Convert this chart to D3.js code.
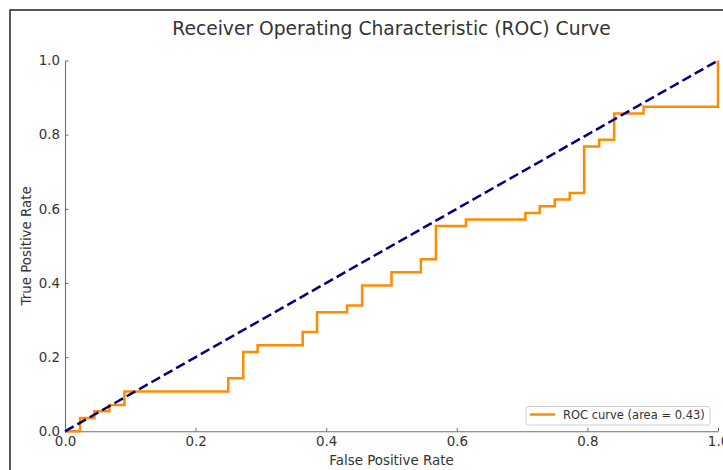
<!DOCTYPE html>
<html>
<head>
<meta charset="utf-8">
<script src="https://cdn.jsdelivr.net/npm/d3@7"></script>
<style>
  body { margin: 0; background: #fff; }
  text { font-family: "DejaVu Sans", sans-serif; }
</style>
</head>
<body>
<div id="container"></div>
<script>
// ROC points (step after each point)
const fpr = [0, 0.023, 0.045, 0.068, 0.091, 0.25, 0.273, 0.295, 0.364, 0.386, 0.432, 0.455, 0.5,
  0.545, 0.568, 0.614, 0.705, 0.727, 0.75, 0.773, 0.795, 0.818, 0.841, 0.886, 1];
const tpr = [0, 0.036, 0.054, 0.071, 0.107, 0.143, 0.214, 0.232, 0.268, 0.321, 0.339, 0.393, 0.429,
  0.464, 0.554, 0.571, 0.589, 0.607, 0.625, 0.643, 0.768, 0.786, 0.857, 0.875, 1];
const chanceLine = [0, 1];
const tickValues = [0, 0.2, 0.4, 0.6, 0.8, 1.0];
const rocLabel = "ROC curve (area = 0.43)";

const width = 723;
const height = 470;
const margin = { top: 60.5, bottom: 38.7, left: 65, right: 5 };

const svg = d3
  .select("#container")
  .append("svg")
  .attr("width", width)
  .attr("height", height);

// outer frame of the screenshot
svg
  .append("rect")
  .attr("x", 10)
  .attr("y", 10)
  .attr("width", 800)
  .attr("height", 600)
  .attr("fill", "none")
  .attr("stroke", "#222")
  .attr("stroke-width", 1.5);

const xScale = d3.scaleLinear().domain([0, 1]).range([margin.left, width - margin.right]);
const yScale = d3.scaleLinear().domain([0, 1]).range([height - margin.bottom, margin.top]);

// axes, ticks point inward
const xAxis = d3
  .axisBottom(xScale)
  .tickValues(tickValues)
  .tickFormat(d3.format(".1f"))
  .tickSizeInner(-3.5)
  .tickSizeOuter(0)
  .tickPadding(5.2);
const yAxis = d3
  .axisLeft(yScale)
  .tickValues(tickValues)
  .tickFormat(d3.format(".1f"))
  .tickSizeInner(-3.5)
  .tickSizeOuter(0)
  .tickPadding(5);

const gx = svg
  .append("g")
  .attr("transform", `translate(0,${yScale(0)})`)
  .call(xAxis);
const gy = svg
  .append("g")
  .attr("transform", `translate(${xScale(0)},0)`)
  .call(yAxis);
[gx, gy].forEach((g) => {
  g.select(".domain").attr("stroke", "#6f6f6f").attr("stroke-width", 1.1);
  g.selectAll(".tick line").attr("stroke", "#6f6f6f");
  g.selectAll(".tick text")
    .attr("fill", "#333")
    .style("font-size", "13.4px")
    .style("font-family", "DejaVu Sans");
});

// curves
const rocData = fpr.map((d, i) => [d, tpr[i]]);
const line = d3
  .line()
  .x((d) => xScale(d[0]))
  .y((d) => yScale(d[1]));

svg
  .append("path")
  .datum(rocData)
  .attr("fill", "none")
  .attr("stroke", "darkorange")
  .attr("stroke-width", 2.5)
  .attr("d", line.curve(d3.curveStepAfter));

svg
  .append("path")
  .datum(chanceLine.map((d) => [d, d]))
  .attr("fill", "none")
  .attr("stroke", "navy")
  .attr("stroke-width", 2.5)
  .attr("stroke-dasharray", "9.9,4.3")
  .attr("d", line.curve(d3.curveLinear));

// title and labels
svg
  .append("text")
  .attr("x", (xScale(0) + xScale(1)) / 2)
  .attr("y", 35)
  .attr("text-anchor", "middle")
  .attr("fill", "#333")
  .style("font-size", "18.7px")
  .text("Receiver Operating Characteristic (ROC) Curve");

svg
  .append("text")
  .attr("x", (xScale(0) + xScale(1)) / 2)
  .attr("y", 465)
  .attr("text-anchor", "middle")
  .attr("fill", "#333")
  .style("font-size", "13.4px")
  .text("False Positive Rate");

svg
  .append("text")
  .attr("transform", `translate(31,${(yScale(0) + yScale(1)) / 2}) rotate(-90)`)
  .attr("text-anchor", "middle")
  .attr("fill", "#333")
  .style("font-size", "13.4px")
  .text("True Positive Rate");

// legend (lower right)
const legend = svg.append("g").attr("transform", `translate(526,406.5)`);
legend
  .append("rect")
  .attr("width", 184)
  .attr("height", 18.5)
  .attr("rx", 2.5)
  .attr("fill", "#fff")
  .attr("fill-opacity", 0.8)
  .attr("stroke", "#d0d0d0")
  .attr("stroke-width", 1);
legend
  .append("line")
  .attr("x1", 4)
  .attr("x2", 29)
  .attr("y1", 8)
  .attr("y2", 8)
  .attr("stroke", "darkorange")
  .attr("stroke-width", 2.5);
legend
  .append("text")
  .attr("x", 37)
  .attr("y", 12.2)
  .attr("fill", "#333")
  .style("font-size", "11.5px")
  .text(rocLabel);
</script>
</body>
</html>
